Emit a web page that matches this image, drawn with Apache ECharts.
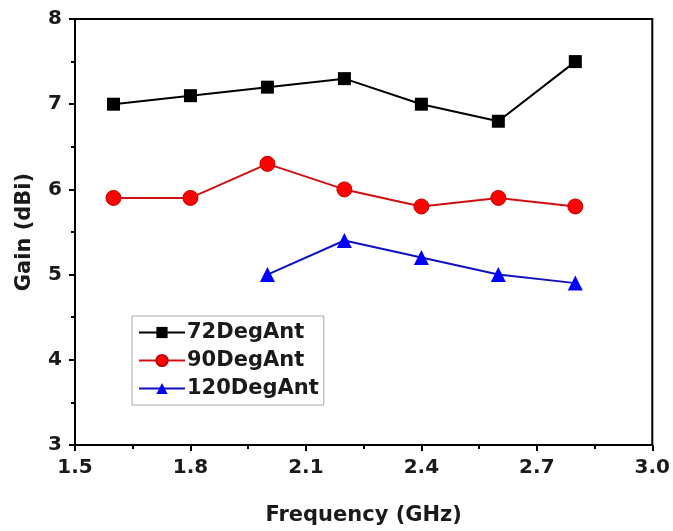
<!DOCTYPE html>
<html>
<head>
<meta charset="utf-8">
<script src="https://cdn.jsdelivr.net/npm/echarts@6/dist/echarts.min.js"></script>
<style>html,body{margin:0;padding:0;background:#fff}#c{width:673px;height:531px}</style>
</head>
<body>
<div id="c"></div>
<script>
const freq = [1.6, 1.8, 2.0, 2.2, 2.4, 2.6, 2.8];
const gain72 = [7.0, 7.1, 7.2, 7.3, 7.0, 6.8, 7.5];
const gain90 = [5.9, 5.9, 6.3, 6.0, 5.8, 5.9, 5.8];
const gain120 = [null, null, 5.0, 5.4, 5.2, 5.0, 4.9];
const seriesNames = ['72DegAnt', '90DegAnt', '120DegAnt'];

const pairs = v => freq.map((f, i) => v[i] == null ? null : [f, v[i]]).filter(p => p);
const font = 'DejaVu Sans';
const chart = echarts.init(document.getElementById('c'));
chart.setOption({
  animation: false,
  backgroundColor: '#fff',
  grid: { left: 75, right: 20, top: 19, bottom: 84, show: true, borderColor: '#000', borderWidth: 2, backgroundColor: 'transparent' },
  xAxis: {
    type: 'value', min: 1.5, max: 3.0, interval: 0.3,
    name: 'Frequency (GHz)', nameLocation: 'middle', nameGap: 60,
    nameTextStyle: { fontFamily: font, fontWeight: 'bold', fontSize: 21, color: '#1a1a1a' },
    axisLine: { lineStyle: { color: '#000', width: 2 } },
    axisTick: { inside: false, length: 6, lineStyle: { color: '#000', width: 2 } },
    minorTick: { show: true, splitNumber: 2, length: 4, lineStyle: { color: '#000', width: 2 } },
    splitLine: { show: false },
    axisLabel: { margin: 13, fontFamily: font, fontWeight: 'bold', fontSize: 20, color: '#1a1a1a', formatter: v => v.toFixed(1) }
  },
  yAxis: {
    type: 'value', min: 3, max: 8, interval: 1,
    name: 'Gain (dBi)', nameLocation: 'middle', nameGap: 40, nameRotate: 90,
    nameTextStyle: { fontFamily: font, fontWeight: 'bold', fontSize: 21, color: '#1a1a1a' },
    axisLine: { lineStyle: { color: '#000', width: 2 } },
    axisTick: { inside: false, length: 6, lineStyle: { color: '#000', width: 2 } },
    minorTick: { show: true, splitNumber: 2, length: 4, lineStyle: { color: '#000', width: 2 } },
    splitLine: { show: false },
    axisLabel: { margin: 13, fontFamily: font, fontWeight: 'bold', fontSize: 20, color: '#1a1a1a' }
  },
  legend: {
    orient: 'vertical', left: 132, top: 316,
    itemWidth: 46, itemHeight: 14, itemGap: 7,
    padding: [6, 5, 6, 6],
    borderColor: '#aaa', borderWidth: 1, backgroundColor: '#fff',
    textStyle: { fontFamily: font, fontWeight: 'bold', fontSize: 21, color: '#1a1a1a', padding: [0, 0, 0, -3] },
    data: seriesNames
  },
  series: [
    { name: seriesNames[0], type: 'line', data: pairs(gain72), symbol: 'rect', symbolSize: 13,
      lineStyle: { color: '#000', width: 2 }, itemStyle: { color: '#000' } },
    { name: seriesNames[1], type: 'line', data: pairs(gain90), symbol: 'circle', symbolSize: 15,
      lineStyle: { color: '#d01010', width: 2 }, itemStyle: { color: '#ff0000', borderColor: '#c00000', borderWidth: 1 } },
    { name: seriesNames[2], type: 'line', data: pairs(gain120), symbol: 'triangle', symbolSize: 15,
      lineStyle: { color: '#1010c0', width: 2 }, itemStyle: { color: '#0000ff' } }
  ]
});
</script>
</body>
</html>
